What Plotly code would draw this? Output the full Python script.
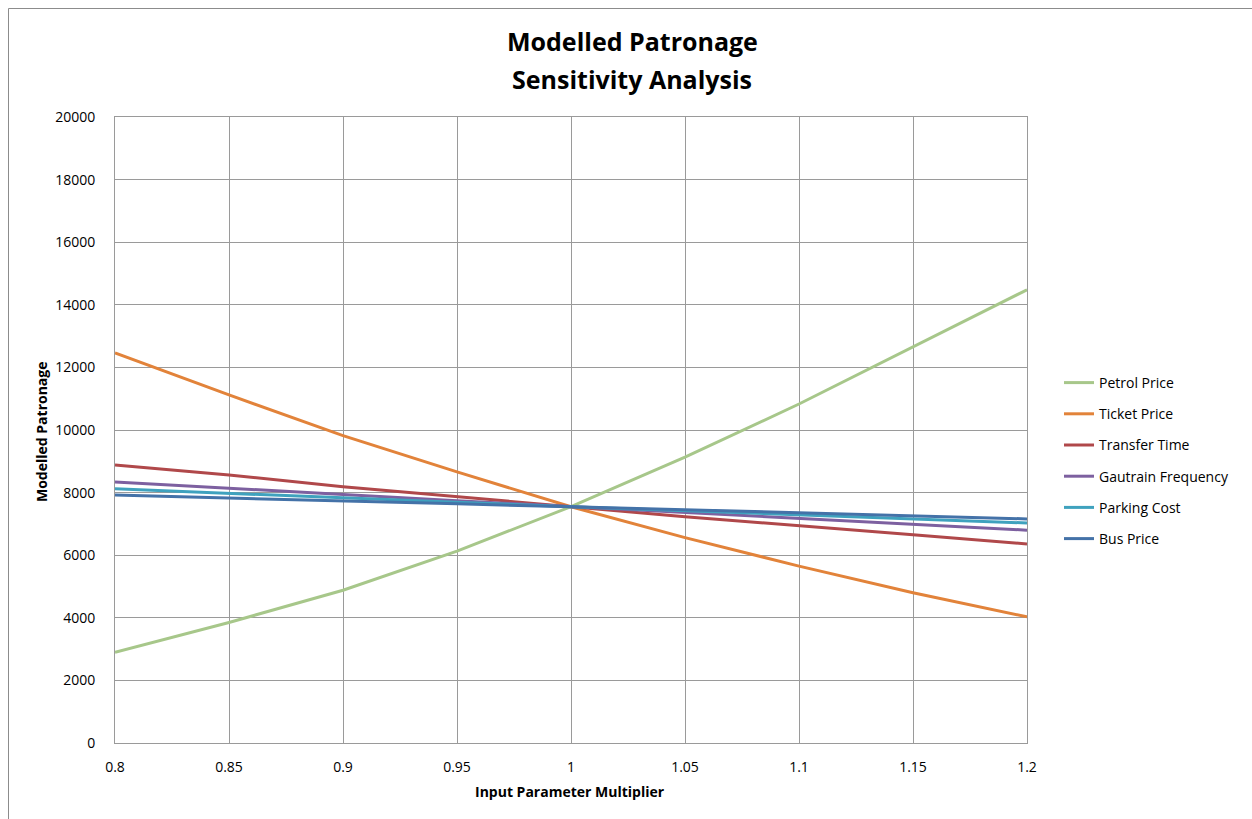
import plotly.graph_objects as go

# Input parameter multipliers
multiplier = [0.8, 0.85, 0.9, 0.95, 1.0, 1.05, 1.1, 1.15, 1.2]

# Modelled patronage for each varied input
petrol_price = [2900, 3850, 4880, 6130, 7550, 9130, 10830, 12650, 14480]
ticket_price = [12460, 11120, 9820, 8660, 7550, 6560, 5650, 4800, 4030]
transfer_time = [8880, 8560, 8190, 7860, 7550, 7230, 6930, 6650, 6360]
gautrain_frequency = [8340, 8130, 7940, 7740, 7550, 7360, 7170, 6980, 6800]
parking_cost = [8120, 7970, 7830, 7690, 7550, 7420, 7290, 7160, 7030]
bus_price = [7920, 7820, 7730, 7640, 7550, 7450, 7350, 7260, 7160]

series = [
    ("Petrol Price", petrol_price, "#A7C78A"),
    ("Ticket Price", ticket_price, "#E2833A"),
    ("Transfer Time", transfer_time, "#B0484A"),
    ("Gautrain Frequency", gautrain_frequency, "#7D60A0"),
    ("Parking Cost", parking_cost, "#3FA2BE"),
    ("Bus Price", bus_price, "#4472A8"),
]

y_ticks = list(range(0, 20001, 2000))
y_tick_text = [str(v) for v in y_ticks]
x_ticks = [0.8, 0.85, 0.9, 0.95, 1, 1.05, 1.1, 1.15, 1.2]
x_tick_text = ["0.8", "0.85", "0.9", "0.95", "1", "1.05", "1.1", "1.15", "1.2"]

FONT = "Open Sans"
GRID = "#9A9A9A"

fig = go.Figure()
for i, (name, values, color) in enumerate(series):
    fig.add_trace(go.Scatter(
        x=multiplier, y=values, name=name, mode="lines",
        line=dict(color=color, width=3),
        legendgroup=f"g{i}",
    ))

fig.update_layout(
    width=1252, height=819,
    margin=dict(l=115, r=225, t=117, b=76),
    paper_bgcolor="white", plot_bgcolor="white",
    font=dict(family=FONT, color="#000000"),
    xaxis=dict(
        range=[0.8, 1.2], tickvals=x_ticks, ticktext=x_tick_text,
        showgrid=True, gridcolor=GRID, gridwidth=1,
        showline=True, linecolor=GRID, linewidth=1, mirror=True,
        zeroline=False, ticks="", tickfont=dict(size=14, family=FONT),
        ticklabelstandoff=11,
    ),
    yaxis=dict(
        range=[0, 20000], tickvals=y_ticks, ticktext=y_tick_text,
        showgrid=True, gridcolor=GRID, gridwidth=1,
        showline=True, linecolor=GRID, linewidth=1, mirror=True,
        zeroline=False, ticks="", tickfont=dict(size=14, family=FONT),
        ticklabelstandoff=16,
    ),
    legend=dict(
        x=(1059 - 115) / 912, xanchor="left",
        y=(743 - 461) / 626, yanchor="middle",
        traceorder="grouped", tracegroupgap=10,
        font=dict(size=14, family=FONT, color="#000000"),
        bgcolor="rgba(0,0,0,0)",
    ),
    showlegend=True,
)

# Chart title (two lines)
for text, ypix in [("Modelled Patronage", 41), ("Sensitivity Analysis", 79)]:
    fig.add_annotation(
        text=f"<b>{text}</b>", xref="paper", yref="paper",
        x=(632 - 115) / 912, y=(743 - ypix) / 626,
        xanchor="center", yanchor="middle", showarrow=False,
        font=dict(size=25, family=FONT, color="#000000"),
    )

# Axis titles
fig.add_annotation(
    text="<b>Input Parameter Multiplier</b>", xref="paper", yref="paper",
    x=(570 - 115) / 912, y=(743 - 791) / 626, xanchor="center", yanchor="middle",
    showarrow=False, font=dict(size=14, family=FONT, color="#000000"),
)
fig.add_annotation(
    text="<b>Modelled Patronage</b>", xref="paper", yref="paper",
    x=(42 - 115) / 912, y=(743 - 432) / 626, xanchor="center", yanchor="middle",
    textangle=-90, showarrow=False, font=dict(size=14, family=FONT, color="#000000"),
)

# Chart frame
fig.add_shape(
    type="rect", xref="paper", yref="paper", layer="below",
    x0=(8.5 - 115) / 912, x1=(1270 - 115) / 912,
    y0=(743 - 830) / 626, y1=(743 - 8.5) / 626,
    line=dict(color="#8C8C8C", width=1), fillcolor="rgba(0,0,0,0)",
)

fig.write_html("out.html")
